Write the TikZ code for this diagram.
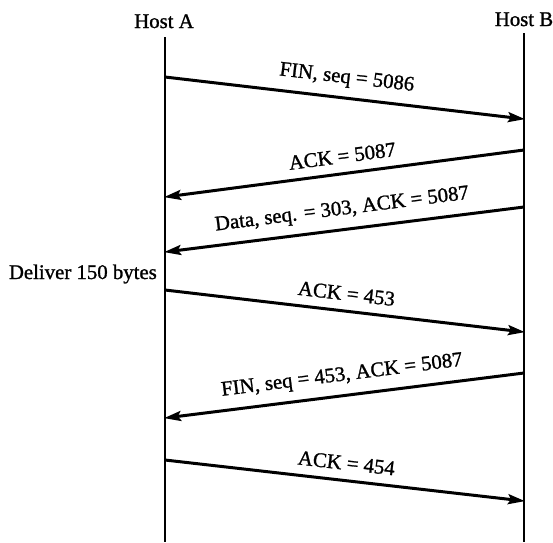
\documentclass[tikz,border=0pt]{standalone}
\usepackage{fontspec}
% slightly heavier strokes for the regular serif face
\setmainfont{Liberation Serif}[BoldFont={Liberation Serif}, BoldFeatures={FakeBold=1.2}]
\usetikzlibrary{arrows.meta}

\begin{document}
\begin{tikzpicture}[x=1pt,y=-1pt,
  lbl/.style={font=\fontsize{20.8}{24}\selectfont\bfseries, inner sep=0pt},
  msg/.style={line width=3pt, -{Stealth[length=17pt,width=10pt,inset=3pt]}, shorten >=-1pt},
  msglbl/.style={lbl, sloped, above=9pt, pos=0.5},
  life/.style={line width=2pt}]
\useasboundingbox (0,0) rectangle (553,542);

% host names
\node[lbl, anchor=base] (hA) at (164,28) {Host A};
\node[lbl, anchor=base] (hB) at (524,26) {Host B};

% lifelines
\coordinate (aTop) at (165,37);
\coordinate (aBot) at (165,542);
\coordinate (bTop) at (524,33);
\coordinate (bBot) at (524,542);
\draw[life] (aTop) -- (aBot);
\draw[life] (bTop) -- (bBot);

% message end points
\coordinate (a1) at (165,77);  \coordinate (b1) at (524,119);
\coordinate (b2) at (524,150); \coordinate (a2) at (165,197);
\coordinate (b3) at (524,207); \coordinate (a3) at (165,252);
\coordinate (a4) at (165,290); \coordinate (b4) at (524,332);
\coordinate (b5) at (524,373); \coordinate (a5) at (165,418);
\coordinate (a6) at (165,460); \coordinate (b6) at (524,501);

% messages
\draw[msg] (a1) -- node[msglbl] {FIN, seq = 5086} (b1);
\draw[msg] (b2) -- node[msglbl] {ACK = 5087} (a2);
\draw[msg] (b3) -- node[msglbl] {Data, seq. = 303, ACK = 5087} (a3);
\draw[msg] (a4) -- node[msglbl] {ACK = 453} (b4);
\draw[msg] (b5) -- node[msglbl] {FIN, seq = 453, ACK = 5087} (a5);
\draw[msg] (a6) -- node[msglbl] {ACK = 454} (b6);

% side note at host A
\node[lbl, anchor=base east] (dlv) at (157,279) {Deliver 150 bytes};
\end{tikzpicture}
\end{document}
